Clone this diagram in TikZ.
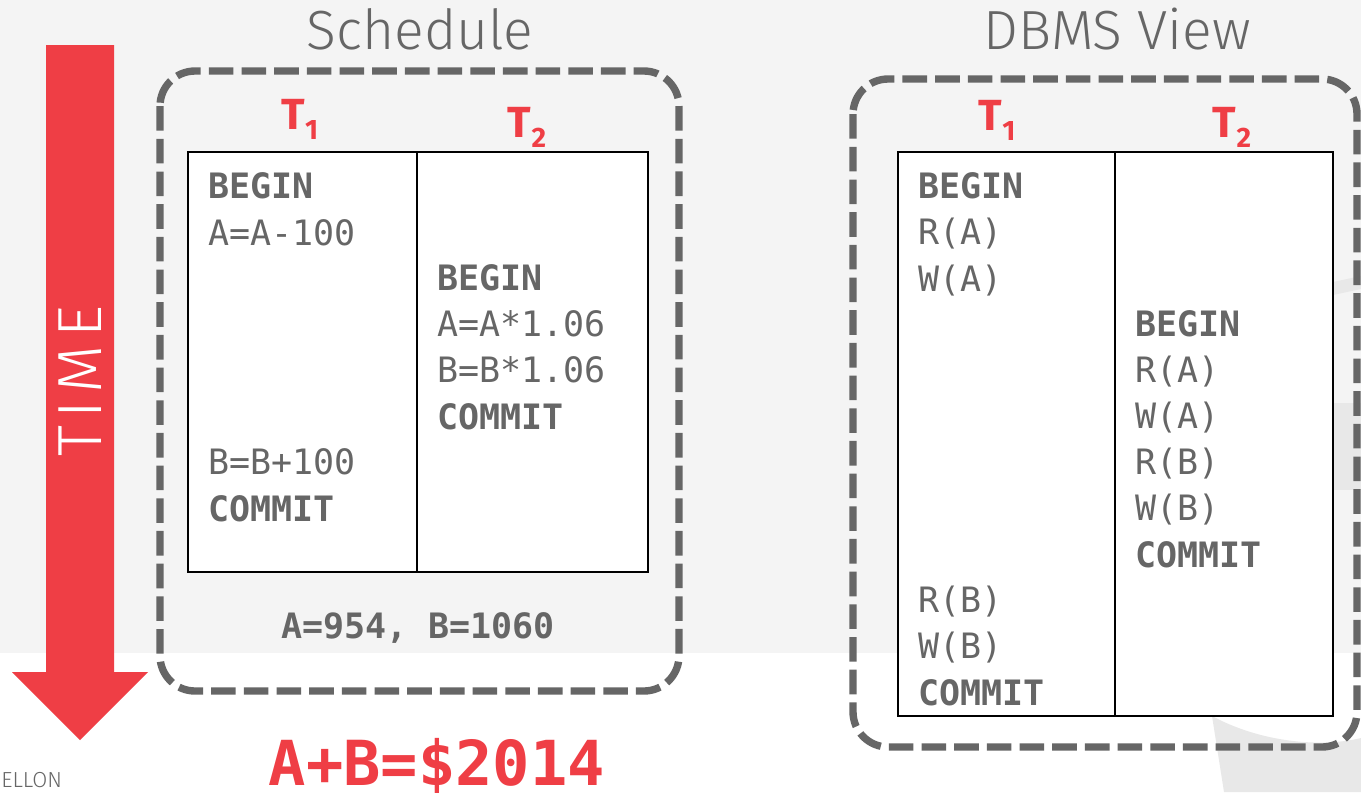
\documentclass[tikz,border=0pt]{standalone}
\usepackage{fontspec}
\setmainfont{Fira Sans}
\setmonofont{DejaVu Sans Mono}
\newfontfamily\thinfont{Fira Sans Light}
\usepackage{xcolor}
\usetikzlibrary{positioning}

\definecolor{cmured}{HTML}{EF3E45}
\definecolor{txtgray}{HTML}{666666}
\definecolor{bggray}{HTML}{F4F4F4}
\definecolor{markgray}{HTML}{E8E8E8}

\tikzset{
  dashbox/.style={draw=txtgray, line width=4.2pt, dash pattern=on 14pt off 4.6pt, rounded corners=20pt},
  tbl/.style={draw=black, line width=1.4pt, fill=white},
  op/.style={anchor=base west, align=left, inner sep=0pt, text=txtgray,
    font=\ttfamily\fontsize{19.9}{26.2}\selectfont},
  tlab/.style={anchor=base, inner sep=0pt, text=cmured,
    font=\bfseries\fontsize{24.8}{26}\selectfont},
  title/.style={anchor=base, inner sep=0pt, text=txtgray,
    font=\thinfont\fontsize{31.4}{32}\selectfont}
}
\newcommand{\tsub}[1]{T\raisebox{-6pt}{\fontsize{16}{16}\selectfont #1}}

\begin{document}
\begin{tikzpicture}[x=0.02cm, y=-0.02cm]
    \useasboundingbox (0,0) rectangle (1361,792);
    % background
    \fill[white] (0,0) rectangle (1361,792);
    \fill[bggray] (0,0) rectangle (1361,653);
    \fill[markgray] (1212,716) .. controls (1260,742) and (1320,748) .. (1361,738) -- (1361,792) -- (1224,792) -- cycle;
    \fill[markgray] (1333,282) -- (1361,276) -- (1361,289) -- (1333,295) -- cycle;
    \fill[markgray] (1333,403) rectangle (1361,490);

    % time arrow
    \fill[cmured] (46,45) -- (114,45) -- (114,672) -- (148,672) -- (80,740) -- (12,672) -- (46,672) -- cycle;
    \node[rotate=90, text=white, inner sep=0pt, font=\thinfont\addfontfeature{LetterSpace=12}\fontsize{35.5}{36}\selectfont] (time) at (80,381) {TIME};
    \node[anchor=base west, inner sep=0pt, text=txtgray, font=\thinfont\fontsize{12.4}{13}\selectfont] (footer) at (1,787) {ELLON};

    % schedule (base of a block = its last line)
    \node[title] (schedtitle) at (420,49) {Schedule};
    \draw[dashbox] (160,71) rectangle (679,691);
    \draw[tbl] (188,152) rectangle (648,572);
    \draw[tbl] (417,152) -- (417,572);
    \node[tlab] (s1) at (300,129) {\tsub{1}};
    \node[tlab] (s2) at (527,137) {\tsub{2}};
    \node[op] (s1a) at (208,245) {\textbf{BEGIN}\\A=A-100};
    \node[op] (s1b) at (208,521) {B=B+100\\\textbf{COMMIT}};
    \node[op] (s2a) at (437,429) {\textbf{BEGIN}\\A=A*1.06\\B=B*1.06\\\textbf{COMMIT}};
    \node[op, anchor=base] (res) at (418,638) {\textbf{A=954, B=1060}};
    \node[anchor=base, inner sep=0pt, text=cmured, font=\ttfamily\bfseries\fontsize{35.3}{36}\selectfont] (sum) at (437,785) {A+B=\$2014};

    % dbms view
    \node[title] (dbmstitle) at (1117,49) {DBMS View};
    \draw[dashbox] (853,79) rectangle (1357,747);
    \draw[tbl] (898,152) rectangle (1333,716);
    \draw[tbl] (1115,152) -- (1115,716);
    \node[tlab] (d1) at (997,130) {\tsub{1}};
    \node[tlab] (d2) at (1232,137) {\tsub{2}};
    \node[op] (d1a) at (918,291) {\textbf{BEGIN}\\R(A)\\W(A)};
    \node[op] (d1b) at (918,705) {R(B)\\W(B)\\\textbf{COMMIT}};
    \node[op] (d2a) at (1135,567) {\textbf{BEGIN}\\R(A)\\W(A)\\R(B)\\W(B)\\\textbf{COMMIT}};
\end{tikzpicture}
\end{document}
